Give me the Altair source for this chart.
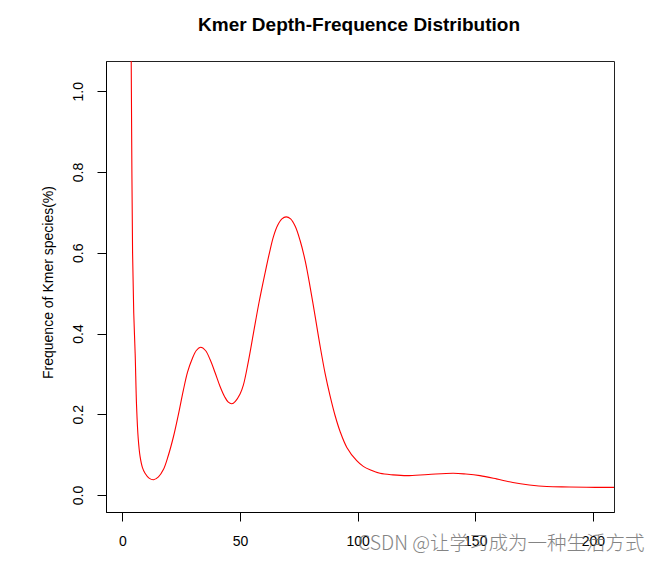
import altair as alt
import pandas as pd

depth = [3.0, 3.6, 3.9, 4.3, 4.8, 5.4, 6.0, 6.7, 7.5, 8.5, 9.6, 11.3, 13.2, 15.3, 17.4,
         19.5, 21.7, 23.8, 25.9, 27.7, 29.5, 31.4, 33.3, 35.3, 37.3, 39.4, 41.5, 43.5,
         45.0, 46.5, 48.0, 50.0, 51.4, 53.5, 55.7, 58.0, 60.6, 62.5, 64.2, 66.0, 67.8,
         69.6, 71.5, 73.5, 75.5, 77.7, 79.8, 82.0, 84.0, 86.2, 88.3, 90.4, 92.5, 95.4,
         99.6, 102.4, 105.5, 109.5, 115.0, 120.9, 130.0, 140.7, 146.0, 152.0, 159.0,
         166.0, 173.0, 180.4, 190.0, 201.0, 212.0]
freq = [1.6, 1.2, 0.9, 0.6, 0.45, 0.35, 0.22, 0.14, 0.095, 0.068, 0.054, 0.042, 0.038,
        0.045, 0.063, 0.098, 0.145, 0.2, 0.26, 0.305, 0.335, 0.358, 0.366, 0.358, 0.335,
        0.303, 0.269, 0.243, 0.23, 0.226, 0.232, 0.25, 0.272, 0.33, 0.401, 0.475, 0.549,
        0.6, 0.64, 0.668, 0.684, 0.689, 0.684, 0.665, 0.631, 0.58, 0.515, 0.44, 0.37,
        0.30, 0.245, 0.197, 0.158, 0.118, 0.085, 0.071, 0.062, 0.054, 0.05, 0.048, 0.051,
        0.054, 0.052, 0.048, 0.04, 0.031, 0.025, 0.021, 0.02, 0.019, 0.019]

x_ticks = [0, 50, 100, 150, 200]
y_ticks = [0.0, 0.2, 0.4, 0.6, 0.8, 1.0]

title_text = "Kmer Depth-Frequence Distribution"
y_title = "Frequence of Kmer species(%)"
watermark = "CSDN @让学习成为一种生活方式"

df = pd.DataFrame({"depth": depth, "freq": freq})

W, H = 508, 451
LEFT, TOP = 106, 61
FONT = "Liberation Sans"

x_scale = alt.Scale(domain=[-7, 209], nice=False, zero=False)
y_scale = alt.Scale(domain=[-0.042, 1.075], nice=False, zero=False)

line = alt.Chart(df).mark_line(color="#FF0000", strokeWidth=1.1, clip=True,
                               interpolate="catmull-rom").encode(
    x=alt.X("depth:Q", scale=x_scale,
            axis=alt.Axis(values=x_ticks, title=None, tickSize=9, labelPadding=13,
                          labelFontSize=14, labelFont=FONT, labelColor="#000",
                          tickColor="#000", domainColor="#000", grid=False,
                          labelFlush=False, format="d")),
    y=alt.Y("freq:Q", scale=y_scale,
            axis=alt.Axis(values=y_ticks, title=y_title, tickSize=9, labelPadding=12,
                          labelFontSize=14, labelFont=FONT, labelColor="#000",
                          labelAngle=270, labelAlign="center", labelBaseline="bottom",
                          tickColor="#000", domainColor="#000", grid=False,
                          labelFlush=False, format=".1f",
                          titleFont=FONT, titleFontSize=14, titleFontWeight="normal",
                          titleColor="#000", titleAngle=270, titleAlign="center",
                          titleBaseline="alphabetic", titleX=52 - LEFT,
                          titleY=282 - TOP)),
)

title = alt.Chart(pd.DataFrame({"t": [title_text]})).mark_text(
    font=FONT, fontSize=19, fontWeight="bold", color="#000", align="center",
    baseline="alphabetic").encode(
    text="t:N", x=alt.value(359 - LEFT), y=alt.value(31 - TOP))

wm = alt.Chart(pd.DataFrame({"t": [watermark]})).mark_text(
    font="Noto Sans CJK SC", fontSize=19.5, fontWeight=300, color="#777777",
    align="left", baseline="middle", opacity=0.9).encode(
    text="t:N", x=alt.value(358 - LEFT), y=alt.value(544 - TOP))

chart = alt.layer(line, title, wm).properties(
    width=W, height=H,
    autosize=alt.AutoSizeParams(type="none"),
    padding={"left": LEFT, "top": TOP, "right": 50, "bottom": 50},
    background="white",
).configure_view(stroke="#222", strokeWidth=1)

chart.save("out.html", embed_options={"renderer": "svg", "actions": False})
